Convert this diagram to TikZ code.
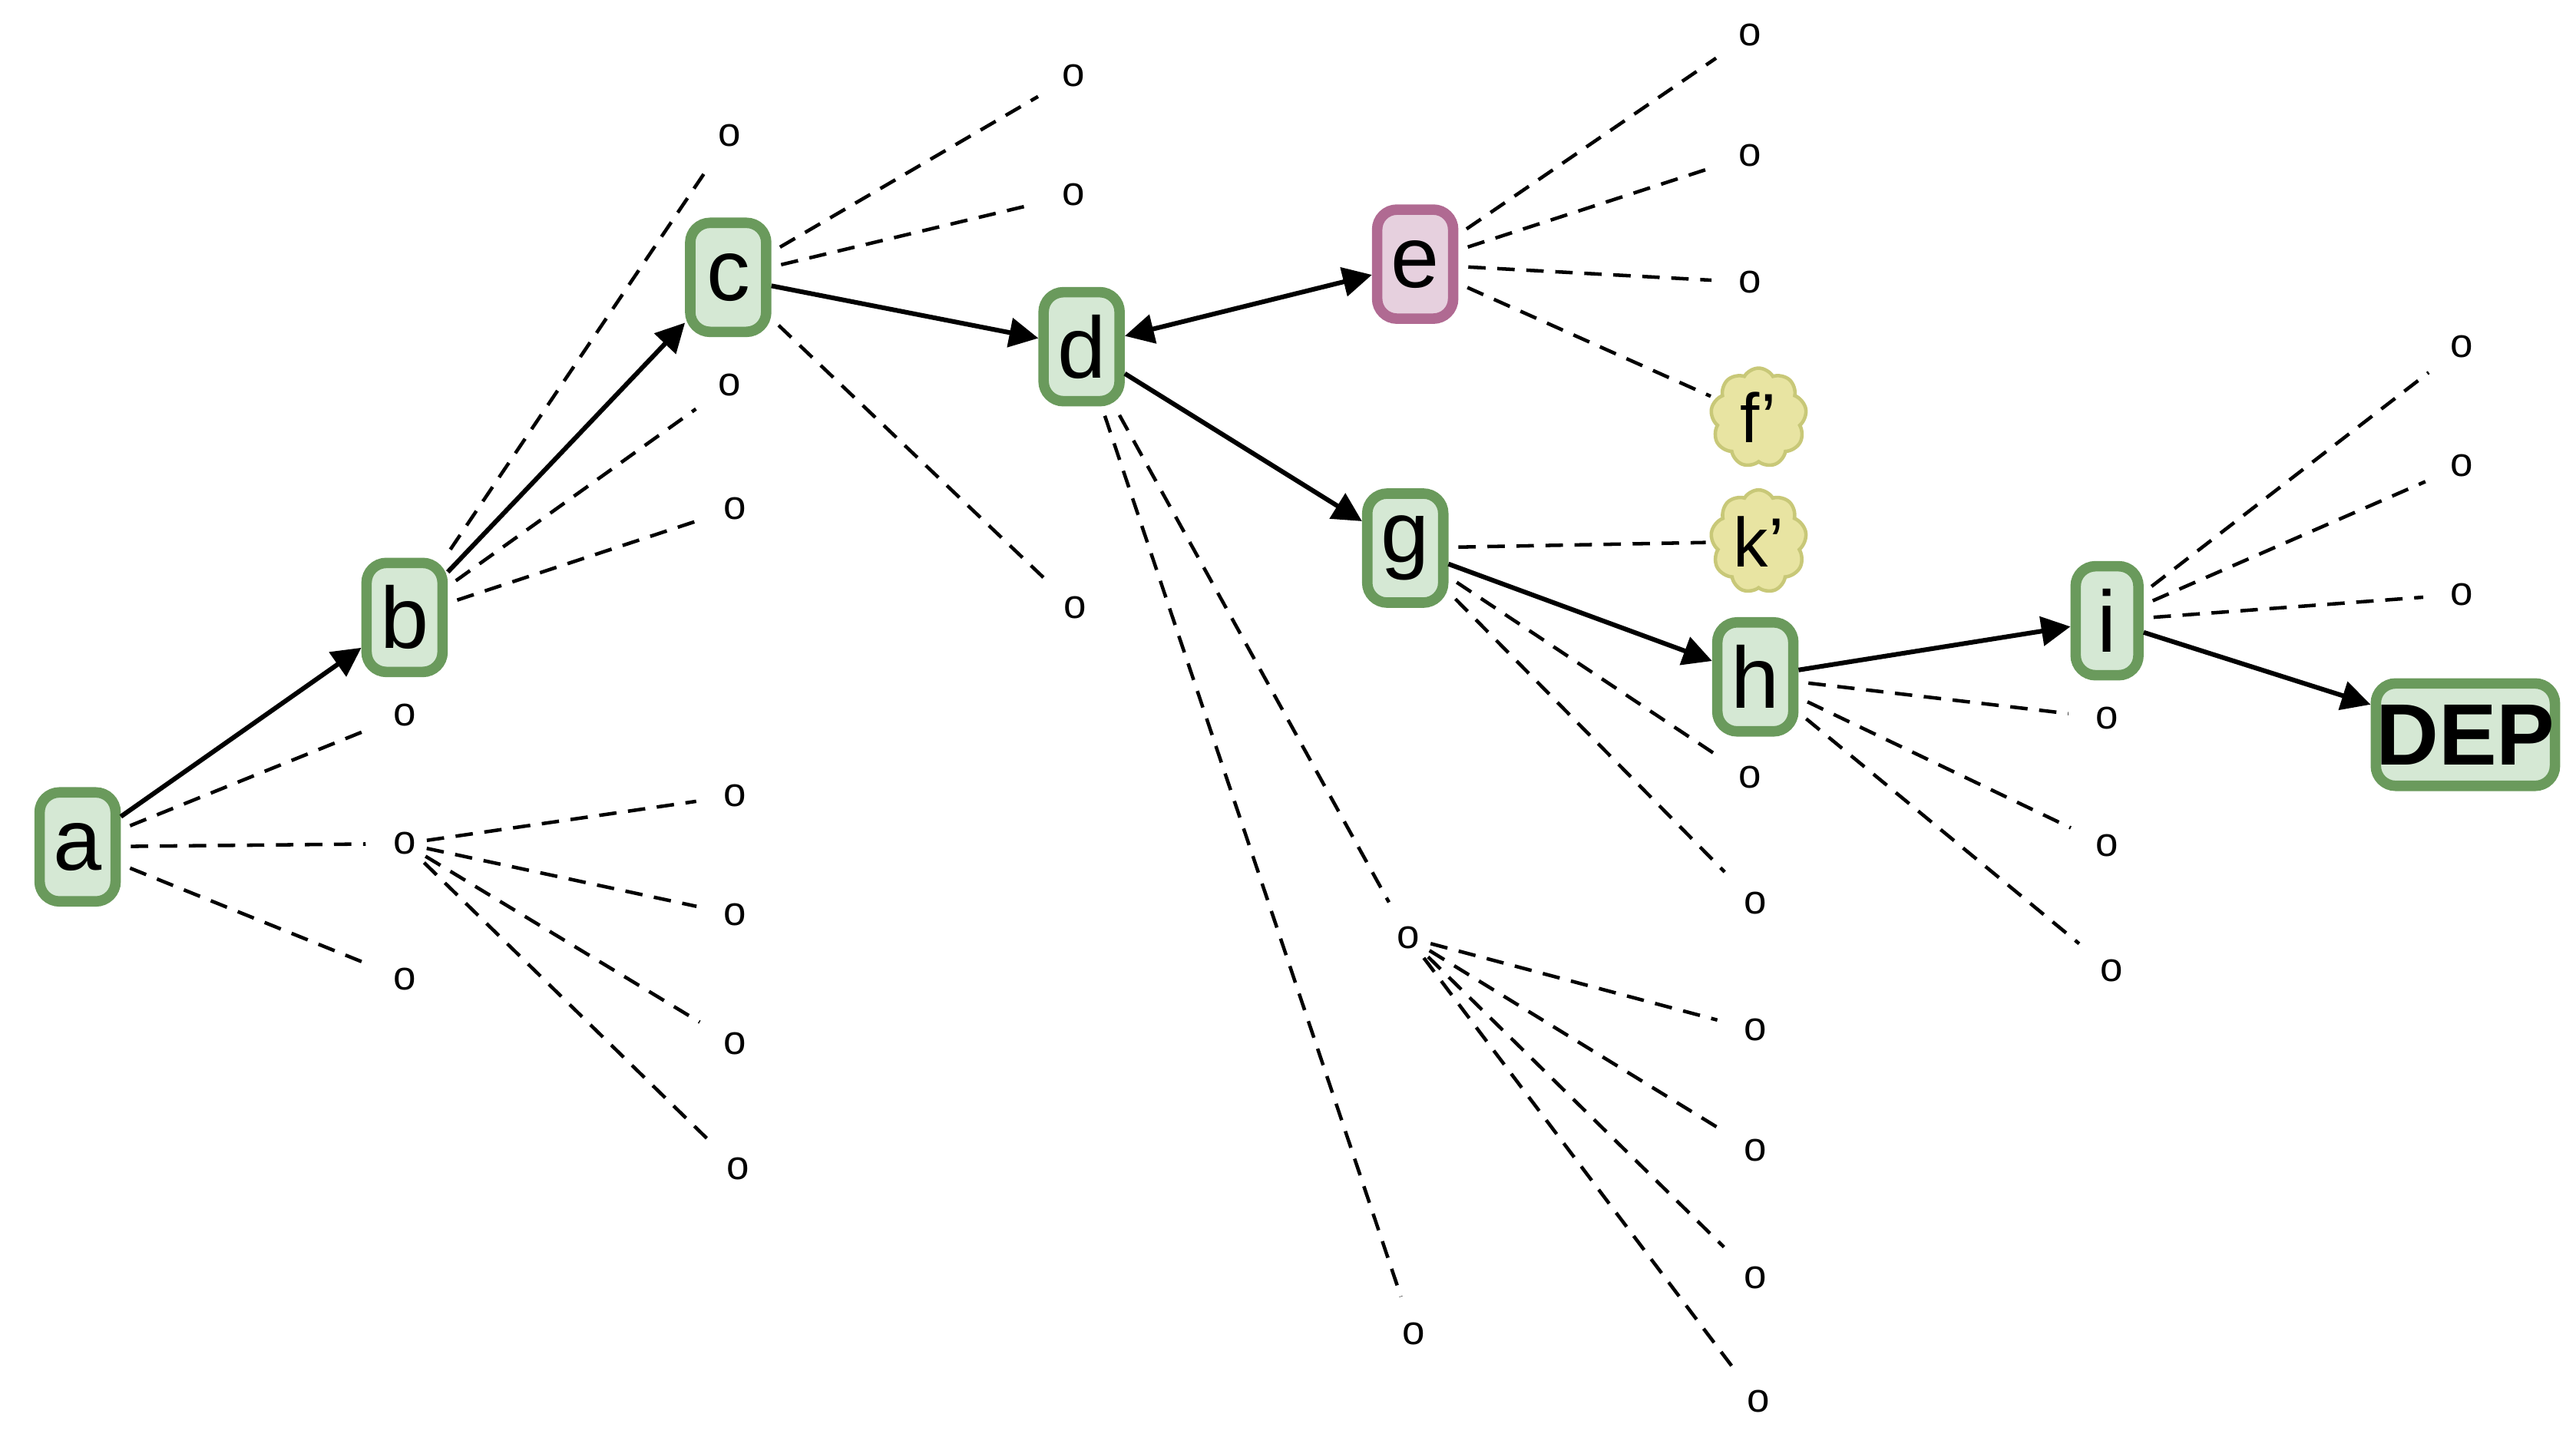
\documentclass[tikz,border=0pt]{standalone}
\usepackage{fontspec}
\setmainfont{Liberation Sans}
\usetikzlibrary{shapes.symbols,arrows.meta}
\definecolor{gfill}{HTML}{D5E8D4}
\definecolor{gdraw}{HTML}{6A9A5C}
\definecolor{pfill}{HTML}{E6D0DE}
\definecolor{pdraw}{HTML}{B06A92}
\definecolor{yfill}{HTML}{E8E4A2}
\definecolor{ydraw}{HTML}{C8C878}
\begin{document}
\begin{tikzpicture}[x=0.01cm,y=-0.01cm,
  box/.style={draw=gdraw,fill=gfill,line width=1.8pt,rounded corners=0.12cm,minimum width=0.46cm,minimum height=0.66cm,inner sep=0pt,font=\fontsize{15}{17}\selectfont},
  pbox/.style={box,draw=pdraw,fill=pfill},
  cl/.style={cloud,cloud puffs=9,cloud puff arc=120,aspect=0.85,draw=ydraw,fill=yfill,line width=0.6pt,minimum width=0.58cm,minimum height=0.6cm,inner sep=0pt,font=\fontsize{12}{14}\selectfont},
  o/.style={inner sep=0pt,font=\fontsize{7}{8}\selectfont},
  ds/.style={dashed,line width=0.6pt,dash pattern=on 3pt off 2pt,shorten >=0.16cm,shorten <=0.06cm},
  ar/.style={line width=0.8pt,-{Triangle[length=5pt,width=5pt]}}]
\useasboundingbox (0,0) rectangle (1560,870);
\node[box] (a) at (47,513) {a};
\node[box] (b) at (245,374) {b};
\node[box] (c) at (441,168) {c};
\node[box] (d) at (655,210) {d};
\node[pbox] (e) at (857,160) {e};
\node[box] (g) at (851,332) {g};
\node[box] (h) at (1063,410) {h};
\node[box,minimum width=0.38cm] (i) at (1276,376) {i};
\node[box,minimum width=1.0cm,minimum height=0.62cm,font=\fontsize{15}{17}\selectfont\bfseries] (dep) at (1493,445) {DEP};
\node[cl] (f) at (1065,253) {f’};
\node[cl,aspect=0.75] (k) at (1065,328) {k’};
% o nodes
\foreach \n/\x/\y in {a1/245/433,a2/245/511,a3/245/593,
 b1/442/82,b2/442/233,b3/445/308,
 m1/445/482,m2/445/554,m3/445/632,m4/447/708,
 c1/650/46,c2/650/118,c3/651/368,
 d1/853/568,d2/856/808,
 n1/1063/624,n2/1063/697,n3/1063/774,n4/1065/849,
 e1/1060/21,e2/1060/94,e3/1060/171,
 g1/1060/471,g2/1063/547,
 h1/1276/435,h2/1276/512,h3/1279/588,
 i1/1491/210,i2/1491/282,i3/1491/360}
  \node[o] (\n) at (\x,\y) {o};
% arrows
\draw[ar] (a) -- (b);
\draw[ar] (b) -- (c);
\draw[ar] (c) -- (d);
\draw[line width=0.8pt,{Triangle[length=5pt,width=5pt]}-{Triangle[length=5pt,width=5pt]}] (d) -- (e);
\draw[ar] (d) -- (g);
\draw[ar] (g) -- (h);
\draw[ar] (h) -- (i);
\draw[ar] (i) -- (dep);
% dashed
\foreach \s/\t in {a/a1,a/a2,a/a3,b/b1,b/b2,b/b3,a2/m1,a2/m2,a2/m3,a2/m4,
 c/c1,c/c2,c/c3,d/d1,d/d2,d1/n1,d1/n2,d1/n3,d1/n4,e/e1,e/e2,e/e3,
 g/g1,g/g2,h/h1,h/h2,h/h3,i/i1,i/i2,i/i3}
  \draw[ds] (\s) -- (\t);
\draw[ds,shorten >=0.03cm] (e) -- (f);
\draw[ds,shorten >=0.03cm] (g) -- (k);
\end{tikzpicture}
\end{document}
